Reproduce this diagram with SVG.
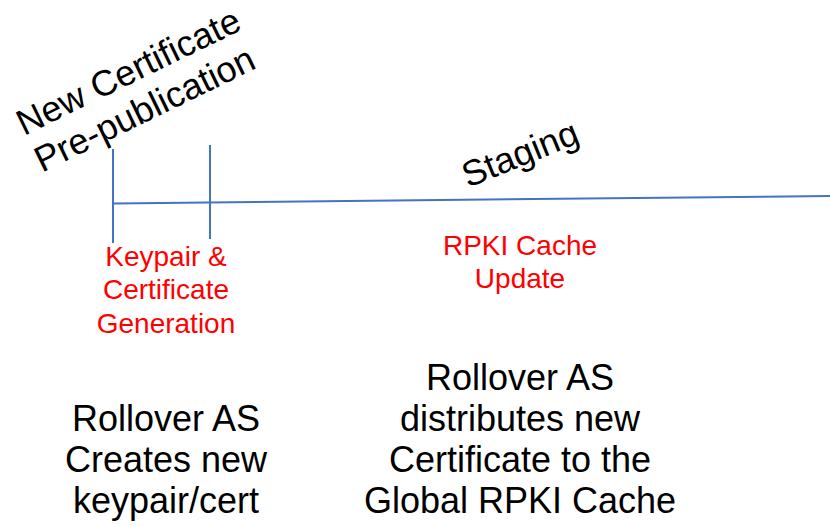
<svg xmlns="http://www.w3.org/2000/svg" width="830" height="526" viewBox="0 0 830 526">
  <style>
    .phase { font-family: "Liberation Sans", Arial, sans-serif; font-size: 36px; fill: #000; }
    .step { font-family: "Liberation Sans", Arial, sans-serif; font-size: 28px; fill: #ff0000; text-anchor: middle; }
    .desc { font-family: "Liberation Sans", Arial, sans-serif; font-size: 36px; fill: #000; text-anchor: middle; }
    .axis { stroke: #4472c4; stroke-width: 2; fill: none; }
  </style>
  <rect width="830" height="526" fill="#ffffff"/>

  <!-- timeline and phase markers -->
  <g id="connectors">
    <line class="axis" x1="113" y1="203.5" x2="830" y2="196"/>
    <line class="axis" x1="113" y1="149" x2="113" y2="243"/>
    <line class="axis" x1="210" y1="145" x2="210" y2="239"/>
  </g>

  <!-- phase titles -->
  <g id="phase-prepublication">
    <g transform="translate(24,136) rotate(-26)">
      <text class="phase" x="0" y="0">New Certificate</text>
      <text class="phase" x="0" y="41">Pre-publication</text>
    </g>
  </g>
  <g id="phase-staging">
    <text class="phase" transform="translate(468,188) rotate(-22)">Staging</text>
  </g>

  <!-- step labels -->
  <g id="step-keygen">
    <text class="step" x="166" y="266">Keypair &amp;</text>
    <text class="step" x="166" y="299">Certificate</text>
    <text class="step" x="166" y="333">Generation</text>
  </g>
  <g id="step-cache-update">
    <text class="step" x="520" y="255">RPKI Cache</text>
    <text class="step" x="520" y="288">Update</text>
  </g>

  <!-- descriptions -->
  <g id="desc-create">
    <text class="desc" x="166" y="431">Rollover AS</text>
    <text class="desc" x="166" y="472">Creates new</text>
    <text class="desc" x="166" y="513">keypair/cert</text>
  </g>
  <g id="desc-distribute">
    <text class="desc" x="520" y="390">Rollover AS</text>
    <text class="desc" x="520" y="431">distributes new</text>
    <text class="desc" x="520" y="472">Certificate to the</text>
    <text class="desc" x="520" y="513">Global RPKI Cache</text>
  </g>
</svg>
